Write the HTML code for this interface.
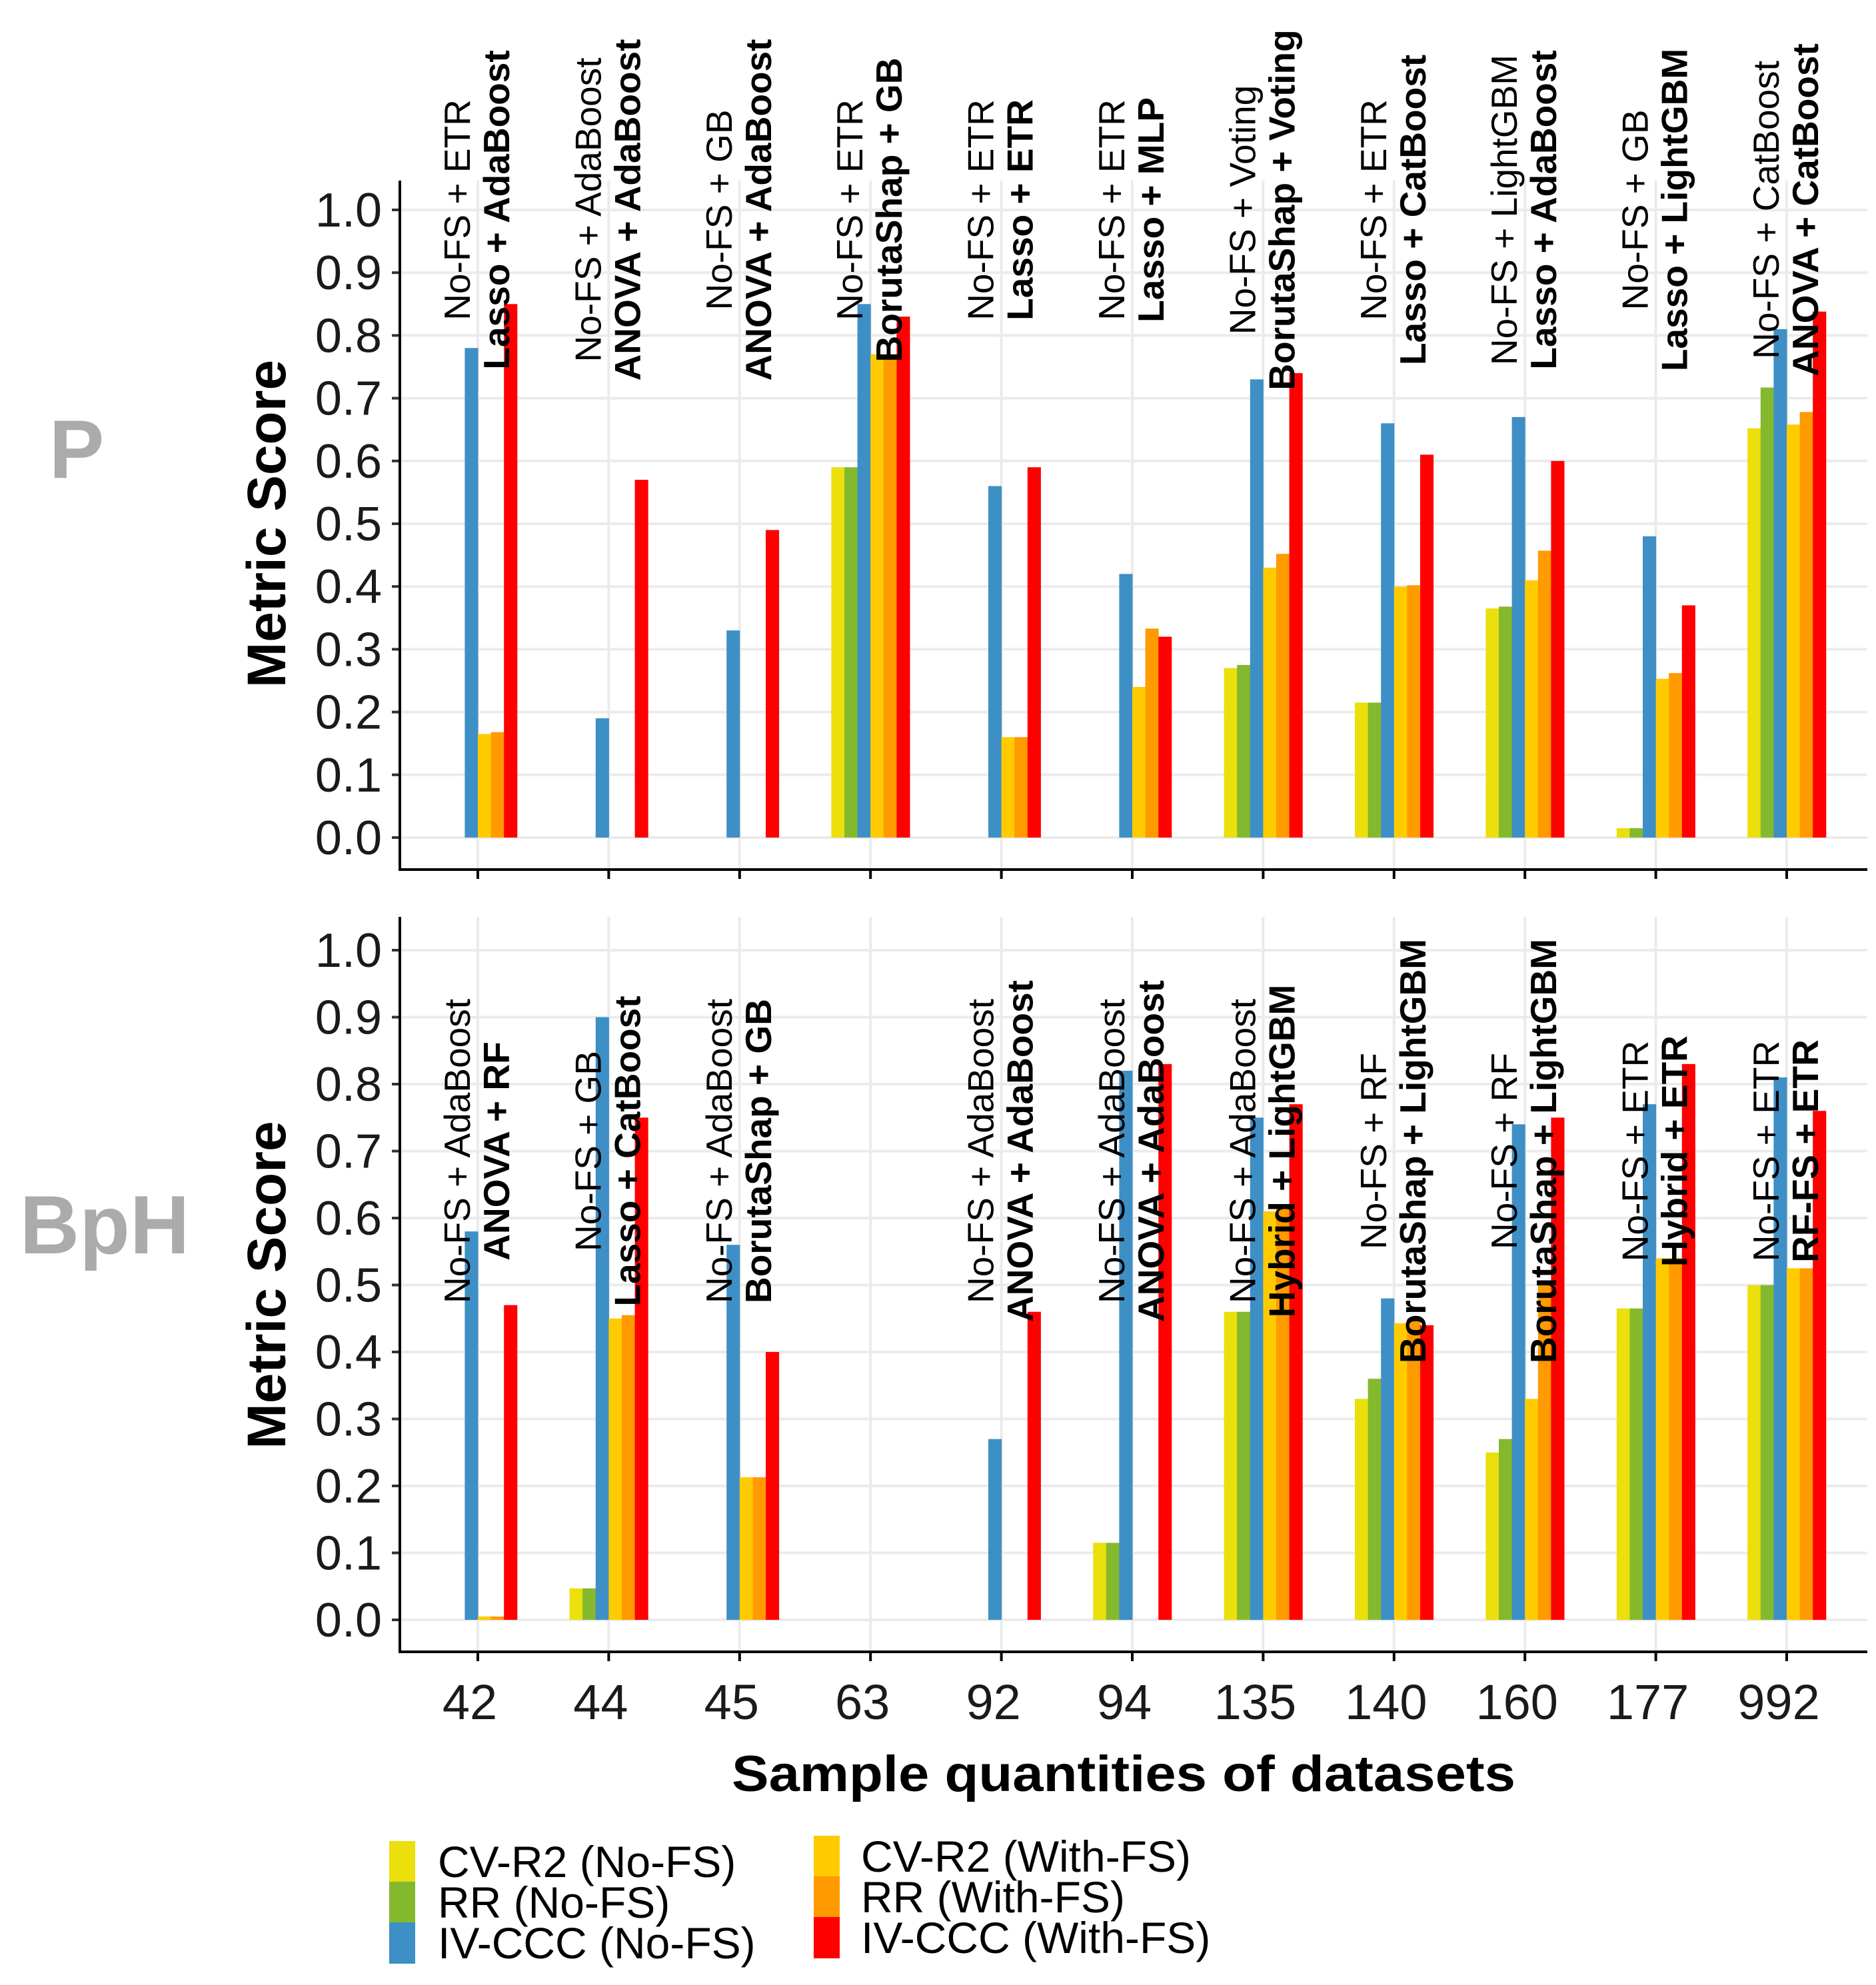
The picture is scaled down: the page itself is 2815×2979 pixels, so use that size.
<!DOCTYPE html>
<html><head><meta charset="utf-8"><style>
html,body{margin:0;padding:0;background:#fff;}
svg{display:block;font-family:"Liberation Sans",Arial,sans-serif;}
</style></head>
<body>
<svg id="chart" width="2815" height="2979" viewBox="0 0 2815 2979" xmlns="http://www.w3.org/2000/svg">
<rect width="2815" height="2979" fill="#fff"/>
<g id="root"></g>
</svg>
<script>
const categories = ["42","44","45","63","92","94","135","140","160","177","992"];
const seriesNames = ["CV-R2 (No-FS)","RR (No-FS)","IV-CCC (No-FS)","CV-R2 (With-FS)","RR (With-FS)","IV-CCC (With-FS)"];
const seriesColors = ["#ebdf0c","#84b92e","#3e8fc6","#ffcb00","#ff9a00","#ff0000"];
const yTicks = [0,0.1,0.2,0.3,0.4,0.5,0.6,0.7,0.8,0.9,1.0];
const yTickLabels = ["0.0","0.1","0.2","0.3","0.4","0.5","0.6","0.7","0.8","0.9","1.0"];
// P panel values, per series
const pCvNo  = [0,0,0,0.59,0,0,0.27,0.215,0.365,0.015,0.652];
const pRrNo  = [0,0,0,0.59,0,0,0.275,0.215,0.368,0.015,0.717];
const pIvNo  = [0.78,0.19,0.33,0.85,0.56,0.42,0.73,0.66,0.67,0.48,0.81];
const pCvW   = [0.165,0,0,0.77,0.16,0.24,0.43,0.40,0.41,0.253,0.658];
const pRrW   = [0.168,0,0,0.77,0.16,0.333,0.452,0.402,0.457,0.262,0.678];
const pIvW   = [0.85,0.57,0.49,0.83,0.59,0.32,0.74,0.61,0.60,0.37,0.838];
const pNoLabels = ["No-FS + ETR","No-FS + AdaBoost","No-FS + GB","No-FS + ETR","No-FS + ETR","No-FS + ETR","No-FS + Voting","No-FS + ETR","No-FS + LightGBM","No-FS + GB","No-FS + CatBoost"];
const pFsLabels = ["Lasso + AdaBoost","ANOVA + AdaBoost","ANOVA + AdaBoost","BorutaShap + GB","Lasso + ETR","Lasso + MLP","BorutaShap + Voting","Lasso + CatBoost","Lasso + AdaBoost","Lasso + LightGBM","ANOVA + CatBoost"];
// BpH panel values
const bCvNo  = [0,0.047,0,0,0,0.115,0.46,0.33,0.25,0.465,0.50];
const bRrNo  = [0,0.047,0,0,0,0.115,0.46,0.36,0.27,0.465,0.50];
const bIvNo  = [0.58,0.90,0.56,0,0.27,0.82,0.75,0.48,0.74,0.77,0.81];
const bCvW   = [0.005,0.45,0.213,0,0,0,0.61,0.443,0.33,0.54,0.525];
const bRrW   = [0.005,0.455,0.213,0,0,0,0.62,0.45,0.50,0.54,0.525];
const bIvW   = [0.47,0.75,0.40,0,0.46,0.83,0.77,0.44,0.75,0.83,0.76];
const bNoLabels = ["No-FS + AdaBoost","No-FS + GB","No-FS + AdaBoost",null,"No-FS + AdaBoost","No-FS + AdaBoost","No-FS + AdaBoost","No-FS + RF","No-FS + RF","No-FS + ETR","No-FS + ETR"];
const bFsLabels = ["ANOVA + RF","Lasso + CatBoost","BorutaShap + GB",null,"ANOVA + AdaBoost","ANOVA + AdaBoost","Hybrid + LightGBM","BorutaShap + LightGBM","BorutaShap + LightGBM","Hybrid + ETR","RF-FS + ETR"];

const NS="http://www.w3.org/2000/svg";
const root=document.getElementById('root');
function mk(tag,attrs,parent){const e=document.createElementNS(NS,tag);for(const k in attrs)e.setAttribute(k,attrs[k]);(parent||root).appendChild(e);return e;}

const xL=600,xR=2802;
function xScale(i){return 717+i*196.4;}
const barW=19.6;

function panel(name,top,axisY,y0,y1,series,noLabels,fsLabels,labelVal,tag,tagX,tagY){
  const g=mk('g',{});
  
  
  const y=v=>y0-(y0-y1)*v;
  yTicks.forEach((t,k)=>{
    const l=mk('line',{x1:xL,x2:xR,y1:y(t),y2:y(t),stroke:'#ebebeb','stroke-width':4},g);
    
    
    const tx=mk('text',{x:573,y:y(t)+25,'text-anchor':'end','font-size':72,fill:'#1a1a1a'},g);
    tx.textContent=yTickLabels[k];
    
    
    mk('line',{x1:588,x2:600,y1:y(t),y2:y(t),stroke:'#333','stroke-width':4},g);
  });
  categories.forEach((c,i)=>{
    const l=mk('line',{x1:xScale(i),x2:xScale(i),y1:top,y2:axisY,stroke:'#ebebeb','stroke-width':4},g);
    
    
  });
  series.forEach((vals,s)=>{
    vals.forEach((v,i)=>{
      if(v<=0)return;
      const x=xScale(i)-3*barW+s*barW;
      const r=mk('rect',{x:x,y:y(v),width:barW+0.5,height:y0-y(v),fill:seriesColors[s]},g);
      
      
    });
  });
  categories.forEach((c,i)=>{
    const cy=y(labelVal);
    if(noLabels[i]){
      const t=mk('text',{x:0,y:0,'text-anchor':'middle','font-size':55,fill:'#000',transform:`translate(${xScale(i)-12},${cy}) rotate(-90)`},g);
      t.textContent=noLabels[i];
      
      
    }
    if(fsLabels[i]){
      const t=mk('text',{x:0,y:0,'text-anchor':'middle','font-size':55,'font-weight':'bold',fill:'#000',transform:`translate(${xScale(i)+47},${cy}) rotate(-90)`},g);
      t.textContent=fsLabels[i];
      
      
    }
    mk('line',{x1:xScale(i),x2:xScale(i),y1:axisY,y2:axisY+14,stroke:'#000','stroke-width':4},g);
  });
  const ax=mk('path',{d:`M${xL},${top} V${axisY} H${xR}`,fill:'none',stroke:'#000','stroke-width':4},g);
  
  
  const yl=mk('text',{x:0,y:0,'text-anchor':'middle','font-size':82,'font-weight':'bold',fill:'#000',transform:`translate(428,${(y0+y1)/2}) rotate(-90)`},g);
  yl.textContent='Metric Score';
  
  
  const tg=mk('text',{x:tagX,y:tagY,'text-anchor':'middle','font-size':124,'font-weight':'bold',fill:'#ababab'},g);
  tg.textContent=tag;
  
  
}

panel('p',271,1305,1257,315,[pCvNo,pRrNo,pIvNo,pCvW,pRrW,pIvW],pNoLabels,pFsLabels,1.0,'P',115,717);
panel('bph',1376,2479,2431,1426,[bCvNo,bRrNo,bIvNo,bCvW,bRrW,bIvW],bNoLabels,bFsLabels,0.70,'BpH',157,1881);

categories.forEach((c,i)=>{
  const t=mk('text',{x:xScale(i)-12,y:2580,'text-anchor':'middle','font-size':74,fill:'#1a1a1a'});
  t.textContent=c;
  
  
});
const xt=mk('text',{x:1686,y:2688,'text-anchor':'middle','font-size':76,'font-weight':'bold',fill:'#000',textLength:1176,lengthAdjust:'spacingAndGlyphs'});
xt.textContent='Sample quantities of datasets';



// legend
const lg=mk('g',{});


seriesNames.forEach((n,s)=>{
  const col=Math.floor(s/3),row=s%3;
  const kx=col?1221:584, ky=(col?2755:2763)+row*61;
  const r=mk('rect',{x:kx,y:ky,width:39,height:62,fill:seriesColors[s]},lg);
  
  
  const t=mk('text',{x:col?1292:657,y:ky+54,'font-size':66,fill:'#000'},lg);
  t.textContent=n;
  
  
});
</script>
</body></html>
